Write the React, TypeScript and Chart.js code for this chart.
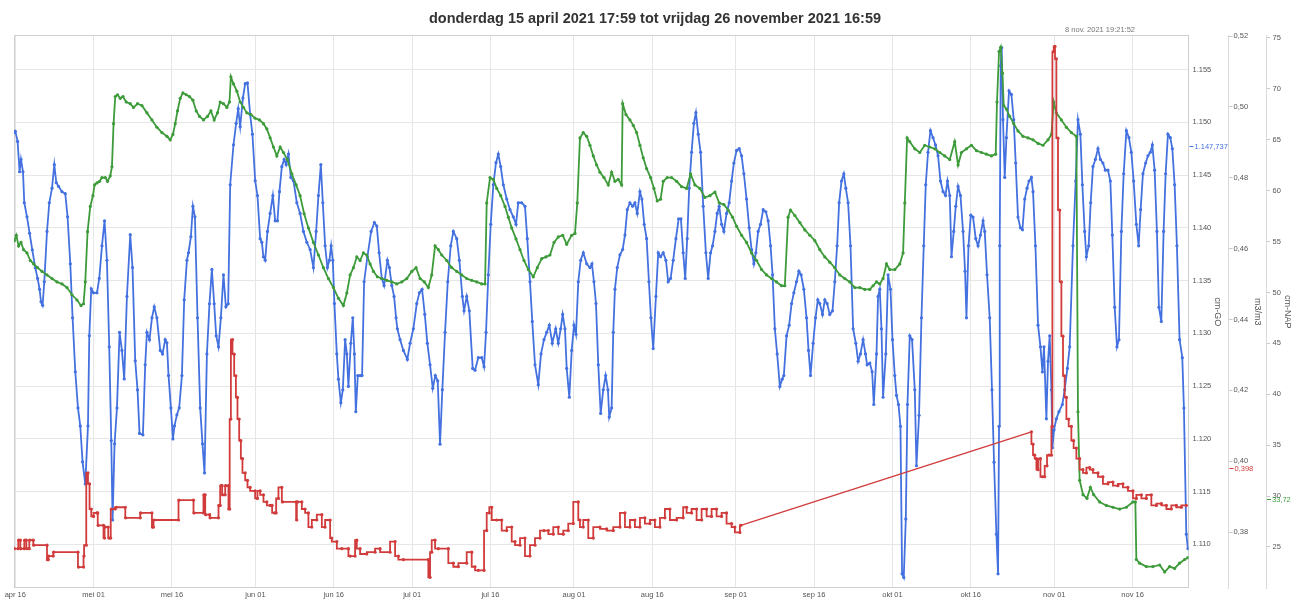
import React, { useEffect, useRef } from 'react';
import { Chart, registerables } from 'chart.js';

Chart.register(...registerables);

const FONT = '"Liberation Sans", Arial, Helvetica, sans-serif';

const TITLE = 'donderdag 15 april 2021 17:59 tot vrijdag 26 november 2021 16:59';
// x values are days counted from 16 apr 2021 00:00
const X_MIN = -0.2507; // 15 apr 2021 17:59
const X_MAX = 224.708; // 26 nov 2021 16:59
const xTickDays = [0, 15, 30, 46, 61, 76, 91, 107, 122, 138, 153, 168, 183, 199, 214];
const xTickLabels = ['apr 16', 'mei 01', 'mei 16', 'jun 01', 'jun 16', 'jul 01', 'jul 16', 'aug 01', 'aug 16', 'sep 01', 'sep 16', 'okt 01', 'okt 16', 'nov 01', 'nov 16'];

const CROSSHAIR_DAY = 206.807; // 8 nov 2021 19:21:52
const CROSSHAIR_LABEL = '8 nov. 2021 19:21:52';
const blueMarker = { value: 1147.737, text: '1.147,737' };
const redMarker = { value: 0.398, text: '0,398' };
const greenMarker = { value: 29.75, text: '33,72' };

const blueSeries: [number, number][] = [
[-0.19,1149.05],[0.00,1149.16],[0.44,1148.20],[0.82,1145.32],[1.09,1146.49],[1.47,1145.32],[1.72,1142.38],[2.24,1141.05],[2.74,1139.49],[3.25,1137.92],[3.83,1136.21],[4.27,1135.21],[4.65,1134.18],[4.92,1132.99],[5.23,1132.65],[5.55,1134.89],[6.07,1139.66],[6.51,1142.38],[7.03,1143.76],[7.47,1145.99],[7.85,1144.28],[8.29,1143.93],[8.94,1143.43],[9.57,1143.24],[10.01,1141.05],[10.53,1136.59],[10.97,1131.47],[11.49,1126.35],[12.00,1122.93],[12.44,1121.22],[12.88,1117.81],[13.40,1115.72],[13.92,1121.22],[14.17,1129.76],[14.55,1134.22],[14.99,1133.84],[15.64,1133.84],[16.08,1135.21],[16.60,1138.30],[17.09,1140.67],[17.55,1136.93],[17.99,1128.72],[18.38,1119.83],[18.63,1112.30],[19.01,1119.52],[19.47,1122.93],[19.97,1130.09],[20.42,1128.38],[20.86,1125.68],[21.38,1133.50],[22.01,1139.35],[22.45,1136.23],[22.97,1127.39],[23.41,1124.64],[23.79,1120.51],[24.44,1120.37],[24.88,1127.01],[25.21,1130.09],[25.71,1129.40],[26.17,1131.47],[26.61,1132.51],[27.12,1131.47],[27.76,1128.38],[28.20,1128.05],[28.71,1129.40],[29.04,1129.10],[29.35,1125.99],[29.80,1122.93],[30.19,1119.99],[30.49,1121.22],[30.95,1122.27],[31.39,1122.93],[31.91,1125.99],[32.35,1133.18],[32.87,1136.93],[33.17,1137.64],[33.63,1139.16],[34.02,1142.05],[34.40,1141.05],[34.90,1131.47],[35.41,1122.93],[35.85,1119.52],[36.24,1116.76],[36.70,1128.05],[37.19,1132.80],[37.65,1136.06],[38.09,1132.80],[38.48,1129.76],[38.92,1128.72],[39.37,1131.47],[39.87,1135.55],[40.33,1132.51],[40.77,1132.80],[41.16,1144.09],[41.79,1147.88],[42.30,1149.91],[42.69,1151.30],[43.07,1149.59],[43.59,1152.31],[44.03,1153.67],[44.47,1153.74],[44.98,1150.76],[45.42,1148.88],[45.94,1144.47],[46.38,1143.07],[46.90,1138.97],[47.22,1138.63],[47.53,1137.26],[47.86,1136.93],[48.30,1139.66],[48.81,1141.37],[49.33,1143.07],[49.77,1140.67],[50.21,1140.67],[50.59,1143.43],[51.05,1145.80],[51.49,1146.49],[51.88,1145.99],[52.32,1147.00],[52.77,1144.78],[53.27,1144.47],[53.92,1142.38],[54.55,1141.37],[55.19,1139.66],[55.84,1138.63],[56.47,1137.95],[57.10,1136.23],[57.62,1139.66],[58.06,1143.07],[58.52,1145.99],[58.90,1142.38],[59.34,1138.30],[59.78,1136.23],[60.16,1136.93],[60.49,1138.30],[60.81,1136.93],[61.12,1132.82],[61.58,1128.05],[61.89,1125.65],[62.35,1123.42],[62.73,1124.64],[63.17,1129.40],[63.50,1128.05],[63.80,1124.96],[64.26,1129.06],[64.64,1131.47],[64.95,1128.05],[65.22,1122.57],[65.60,1125.99],[66.04,1125.99],[66.42,1125.99],[66.81,1134.89],[67.44,1137.26],[68.15,1139.66],[68.78,1140.51],[69.24,1140.17],[69.68,1137.64],[70.19,1135.21],[70.63,1134.53],[71.27,1136.93],[71.65,1136.23],[72.11,1134.53],[72.55,1133.50],[72.93,1131.47],[73.18,1130.43],[73.70,1129.40],[74.33,1128.38],[75.09,1127.52],[75.61,1129.06],[76.24,1130.43],[76.89,1132.82],[77.39,1133.84],[77.91,1134.18],[78.43,1131.79],[78.92,1129.06],[79.44,1127.01],[79.96,1124.79],[80.45,1125.99],[80.91,1125.49],[81.35,1119.49],[81.79,1124.64],[82.31,1130.09],[82.83,1134.89],[83.40,1138.30],[83.90,1139.66],[84.55,1138.97],[85.05,1136.93],[85.62,1133.50],[85.95,1132.13],[86.46,1133.50],[86.96,1132.13],[87.61,1126.67],[88.05,1126.50],[88.68,1127.69],[89.34,1127.69],[89.78,1126.84],[90.16,1130.09],[90.60,1135.55],[91.06,1140.34],[91.56,1144.09],[92.07,1146.18],[92.51,1147.00],[92.97,1145.81],[93.47,1144.09],[94.12,1142.73],[94.75,1141.72],[95.38,1141.05],[95.90,1140.34],[96.34,1142.38],[96.99,1142.38],[97.62,1142.05],[98.06,1138.97],[98.58,1134.89],[99.02,1131.11],[99.54,1127.01],[100.17,1125.13],[100.69,1128.05],[101.26,1129.40],[101.78,1130.09],[102.28,1130.77],[102.85,1129.06],[103.50,1130.43],[104.00,1129.06],[104.46,1130.43],[104.84,1131.79],[105.28,1130.43],[105.61,1126.67],[106.11,1123.94],[106.57,1128.38],[107.01,1130.77],[107.39,1129.91],[107.83,1134.89],[108.29,1136.93],[108.79,1137.64],[109.44,1136.59],[110.07,1136.23],[110.45,1136.59],[110.83,1134.89],[111.22,1132.82],[111.66,1127.01],[112.12,1122.40],[112.61,1124.64],[113.07,1125.99],[113.51,1124.64],[113.76,1122.06],[114.22,1122.93],[114.53,1130.09],[114.85,1134.18],[115.29,1136.23],[115.81,1137.44],[116.33,1137.95],[116.77,1139.32],[117.21,1141.72],[117.72,1142.38],[118.24,1142.05],[118.68,1142.38],[119.12,1141.37],[119.64,1143.43],[120.02,1142.73],[120.46,1140.34],[120.92,1138.97],[121.36,1134.89],[121.74,1131.47],[122.18,1128.55],[122.70,1133.50],[123.14,1137.64],[123.60,1137.26],[124.10,1137.64],[124.61,1136.93],[125.05,1134.89],[125.51,1135.21],[126.01,1136.93],[126.53,1138.97],[127.05,1140.86],[127.49,1140.86],[127.92,1137.64],[128.31,1135.21],[128.69,1138.97],[129.07,1143.76],[129.53,1147.17],[129.97,1149.91],[130.36,1150.93],[130.80,1148.88],[131.26,1147.17],[131.76,1142.05],[132.27,1137.64],[132.71,1135.21],[133.17,1137.64],[133.55,1138.30],[134.00,1139.66],[134.43,1141.37],[134.82,1142.05],[135.28,1140.34],[135.72,1139.66],[136.23,1141.37],[136.73,1142.38],[137.19,1144.44],[137.63,1146.15],[138.15,1147.34],[138.65,1147.51],[139.11,1146.83],[139.55,1145.13],[140.06,1142.73],[140.56,1140.01],[141.02,1137.95],[141.46,1136.59],[141.84,1137.64],[142.28,1139.66],[142.74,1140.34],[143.24,1141.72],[143.76,1141.53],[144.20,1140.67],[144.66,1138.30],[145.04,1135.55],[145.48,1130.43],[145.92,1128.05],[146.44,1124.96],[146.88,1125.65],[147.20,1125.99],[147.72,1129.76],[148.22,1130.77],[148.68,1132.82],[149.12,1133.84],[149.63,1134.89],[150.08,1135.89],[150.51,1135.55],[151.03,1134.18],[151.55,1131.47],[151.93,1128.38],[152.31,1125.99],[152.81,1129.06],[153.27,1131.47],[153.71,1133.18],[154.09,1132.82],[154.61,1131.79],[155.05,1133.18],[155.49,1132.82],[156.00,1131.79],[156.52,1132.13],[156.96,1134.89],[157.41,1138.30],[157.79,1142.38],[158.25,1144.44],[158.69,1145.13],[159.07,1143.76],[159.51,1142.38],[159.97,1138.30],[160.47,1130.43],[160.99,1129.06],[161.43,1127.35],[161.88,1128.05],[162.38,1129.40],[162.84,1128.05],[163.15,1127.01],[163.67,1127.18],[164.11,1126.35],[164.43,1123.25],[164.95,1128.05],[165.25,1133.50],[165.58,1134.18],[165.90,1130.43],[166.21,1123.94],[166.73,1128.05],[167.17,1135.55],[167.63,1134.18],[168.01,1129.40],[168.45,1125.99],[168.78,1124.11],[169.16,1123.25],[169.54,1121.19],[169.85,1107.19],[170.17,1106.85],[170.56,1112.40],[170.88,1123.25],[171.32,1129.76],[171.76,1129.40],[172.28,1124.64],[172.60,1117.44],[173.10,1122.23],[173.56,1131.47],[174.00,1138.30],[174.38,1144.09],[174.82,1147.17],[175.28,1149.22],[175.78,1148.55],[176.24,1147.86],[176.74,1146.84],[177.20,1144.44],[177.70,1143.43],[178.16,1143.07],[178.54,1144.44],[178.98,1143.07],[179.31,1137.26],[179.75,1139.66],[180.13,1142.05],[180.57,1143.93],[181.03,1143.07],[181.53,1139.66],[181.91,1135.89],[182.18,1131.47],[182.57,1138.30],[183.01,1141.20],[183.44,1141.02],[183.96,1138.97],[184.40,1138.30],[184.86,1139.32],[185.36,1140.67],[185.68,1139.66],[186.12,1135.55],[186.63,1131.47],[187.07,1124.64],[187.46,1117.78],[187.92,1110.95],[188.23,1107.19],[188.42,1121.19],[188.55,1138.30],[188.74,1155.38],[188.93,1157.09],[189.18,1150.26],[189.51,1144.78],[189.83,1148.55],[190.33,1152.99],[190.79,1152.65],[191.23,1150.26],[191.61,1146.15],[192.05,1141.02],[192.51,1140.01],[192.90,1139.82],[193.34,1142.73],[193.78,1143.76],[194.16,1144.44],[194.62,1144.78],[194.93,1143.43],[195.39,1138.30],[195.89,1130.77],[196.35,1128.72],[196.73,1126.33],[197.03,1128.72],[197.49,1121.89],[197.80,1127.35],[198.12,1129.76],[198.45,1124.64],[198.64,1119.15],[198.95,1120.84],[199.40,1121.89],[199.90,1122.57],[200.55,1123.25],[200.99,1124.64],[201.51,1126.67],[201.95,1128.72],[202.58,1138.30],[203.10,1144.44],[203.54,1150.26],[204.00,1148.88],[204.38,1144.09],[204.82,1139.66],[205.15,1137.26],[205.59,1138.30],[205.97,1142.38],[206.41,1145.81],[206.87,1146.49],[207.37,1147.51],[207.83,1146.49],[208.32,1146.15],[208.78,1145.47],[209.28,1145.47],[209.74,1144.44],[210.12,1139.32],[210.57,1132.48],[211.01,1128.72],[211.39,1129.40],[211.85,1139.66],[212.29,1145.13],[212.81,1149.22],[213.30,1148.55],[213.76,1147.17],[214.20,1144.44],[214.72,1140.34],[215.16,1138.30],[215.54,1141.72],[215.98,1145.13],[216.50,1146.15],[216.94,1146.83],[217.40,1147.17],[217.78,1147.86],[218.22,1145.47],[218.66,1139.66],[219.04,1132.48],[219.50,1131.11],[219.94,1139.66],[220.33,1145.13],[220.77,1148.88],[221.22,1148.55],[221.61,1147.51],[222.05,1144.09],[222.49,1138.30],[223.00,1129.40],[223.52,1127.69],[223.83,1122.91],[224.29,1110.95],[224.60,1109.58]
];

const greenSeries: [number, number][] = [
[-0.19,55.09],[0.19,55.62],[0.63,54.57],[1.09,54.91],[1.59,54.20],[2.24,53.88],[2.87,53.14],[3.50,52.80],[4.27,52.43],[5.11,52.07],[6.07,51.72],[7.03,51.37],[7.98,51.03],[8.94,50.84],[9.90,50.48],[10.85,49.77],[11.81,49.26],[12.58,48.71],[13.07,48.89],[13.40,51.03],[13.84,55.97],[14.36,58.45],[14.87,59.51],[15.18,60.57],[15.64,60.76],[16.14,60.92],[16.60,61.28],[17.23,61.28],[17.67,60.92],[18.18,61.45],[18.51,62.34],[18.82,66.58],[19.14,69.24],[19.58,69.42],[20.10,69.07],[20.62,69.24],[21.25,68.71],[22.01,68.54],[22.64,68.18],[23.41,68.54],[24.25,68.36],[25.21,67.64],[26.17,66.95],[27.12,66.23],[28.08,65.70],[29.04,65.34],[29.67,64.99],[30.19,65.52],[30.63,66.58],[31.07,67.83],[31.58,69.07],[32.10,69.60],[32.73,69.42],[33.36,69.24],[34.02,68.89],[34.65,67.83],[35.28,67.29],[36.04,66.95],[36.81,67.29],[37.46,67.83],[38.09,66.95],[38.72,67.64],[39.24,68.71],[39.87,68.54],[40.52,68.18],[41.02,68.71],[41.29,71.19],[41.79,70.48],[42.44,69.77],[43.07,68.71],[43.70,68.18],[44.35,67.64],[45.12,67.47],[45.94,67.11],[46.76,66.95],[47.53,66.58],[48.18,66.06],[48.81,65.18],[49.44,64.29],[50.09,63.41],[50.73,64.29],[51.36,63.75],[52.12,63.05],[52.97,61.64],[53.79,60.57],[54.55,59.51],[55.32,57.74],[56.14,56.34],[57.10,54.91],[58.06,53.68],[59.01,52.43],[59.97,51.37],[60.93,50.48],[61.89,49.42],[62.84,48.71],[63.50,49.95],[64.13,51.72],[64.76,52.43],[65.41,53.49],[66.04,53.14],[66.67,53.88],[67.32,53.68],[67.95,52.80],[68.59,52.07],[69.35,51.54],[70.19,51.37],[71.15,51.19],[72.11,51.03],[73.06,50.84],[74.02,51.03],[74.98,51.37],[75.94,52.07],[76.76,52.43],[77.53,51.37],[78.35,51.03],[79.11,50.48],[79.76,51.72],[80.40,54.57],[81.03,54.20],[81.68,53.68],[82.64,53.14],[83.59,52.43],[84.55,52.07],[85.51,51.72],[86.46,51.37],[87.42,51.19],[88.38,51.03],[89.34,50.84],[89.97,50.84],[90.29,58.79],[90.92,61.28],[91.56,61.10],[92.21,60.22],[92.97,59.51],[93.80,58.45],[94.43,57.39],[95.08,56.34],[95.90,55.26],[96.67,54.20],[97.43,53.14],[98.26,52.25],[99.21,51.54],[99.98,52.43],[100.82,53.32],[101.64,53.49],[102.41,53.68],[103.18,54.91],[104.00,55.45],[104.84,55.62],[105.61,54.74],[106.57,55.62],[107.20,55.80],[107.64,58.79],[108.15,65.18],[108.78,65.70],[109.44,65.34],[110.07,64.46],[110.70,63.41],[111.35,62.52],[111.98,61.81],[112.75,61.28],[113.57,60.56],[114.22,61.81],[114.85,60.92],[115.48,61.10],[116.13,60.56],[116.33,68.54],[116.96,67.47],[117.72,66.95],[118.36,66.41],[119.01,65.70],[119.64,64.46],[120.27,63.22],[120.92,62.16],[121.69,61.28],[122.32,60.22],[122.95,58.99],[123.60,59.16],[124.10,60.92],[124.86,61.28],[125.71,61.28],[126.66,60.92],[127.62,60.39],[128.58,60.22],[129.34,61.64],[130.17,60.56],[131.12,60.22],[132.08,59.33],[133.04,59.51],[134.00,59.87],[134.82,58.79],[135.72,58.63],[136.54,58.10],[137.38,57.39],[138.15,56.50],[139.11,55.62],[140.06,54.91],[141.02,53.88],[141.98,53.14],[142.93,52.25],[143.89,51.72],[144.85,51.37],[145.80,51.03],[146.76,50.66],[147.39,50.66],[148.02,57.39],[148.48,58.10],[149.31,57.56],[150.27,56.86],[151.22,56.14],[152.18,55.62],[153.14,55.09],[154.09,54.20],[155.05,53.49],[156.00,52.97],[156.96,52.43],[157.92,51.72],[158.87,51.37],[159.83,51.03],[160.79,50.48],[161.75,50.48],[162.70,50.30],[163.67,50.30],[164.29,50.66],[164.95,51.03],[165.58,50.84],[166.21,51.37],[166.86,52.80],[167.50,52.25],[168.45,52.25],[169.41,52.80],[170.04,53.88],[170.37,58.79],[170.81,65.18],[171.32,64.81],[172.28,64.11],[173.24,63.75],[174.19,64.46],[175.15,64.29],[176.11,64.11],[177.06,63.75],[178.02,63.41],[178.98,63.05],[179.93,64.81],[180.57,62.52],[181.22,63.75],[182.18,64.11],[183.13,64.46],[184.09,63.93],[185.05,63.75],[186.00,63.58],[186.96,63.41],[187.78,63.58],[188.03,68.71],[188.42,73.66],[188.74,74.09],[189.07,71.54],[189.32,68.36],[189.83,68.01],[190.46,67.29],[191.23,66.58],[192.05,65.87],[193.01,65.34],[193.97,65.18],[194.93,64.99],[195.89,64.64],[196.84,64.46],[197.80,64.99],[198.45,65.52],[198.89,68.71],[199.40,67.64],[200.36,66.95],[201.32,66.23],[202.27,65.70],[203.23,65.34],[203.54,38.28],[203.86,31.55],[204.50,30.14],[205.26,29.78],[205.91,30.85],[206.54,30.14],[207.69,29.42],[208.97,29.08],[210.24,28.90],[211.52,28.72],[212.80,28.90],[214.07,29.42],[214.53,29.42],[214.72,23.77],[215.35,23.41],[216.63,23.07],[217.90,23.07],[219.18,23.23],[220.14,22.54],[221.09,23.07],[222.05,22.89],[223.00,23.41],[223.96,23.77],[224.60,23.95]
];

const redSeries: [number, number][] = [
[-0.19,0.3753],[0.57,0.3753],[0.67,0.3777],[0.96,0.3777],[1.05,0.3753],[1.72,0.3753],[1.82,0.3777],[2.11,0.3777],[2.20,0.3753],[2.68,0.3753],[2.78,0.3777],[3.45,0.3777],[3.54,0.3763],[6.07,0.3763],[6.16,0.3722],[6.32,0.3722],[6.41,0.3732],[7.27,0.3732],[7.37,0.3743],[12.00,0.3743],[12.10,0.3701],[13.07,0.3701],[13.17,0.3732],[13.59,0.3763],[13.92,0.3967],[14.22,0.3936],[14.55,0.3865],[14.99,0.3844],[15.64,0.3854],[15.79,0.3854],[15.89,0.3819],[16.90,0.3819],[17.09,0.3783],[17.23,0.3814],[17.80,0.3814],[17.99,0.3783],[18.28,0.3783],[18.41,0.3865],[19.14,0.3865],[19.33,0.3870],[21.06,0.3870],[21.15,0.3840],[23.93,0.3840],[24.02,0.3854],[26.17,0.3854],[26.26,0.3814],[26.47,0.3814],[26.57,0.3834],[31.26,0.3834],[31.35,0.3890],[34.13,0.3890],[34.23,0.3854],[36.04,0.3854],[36.14,0.3905],[36.37,0.3905],[36.47,0.3849],[37.23,0.3849],[37.33,0.3840],[38.92,0.3840],[39.01,0.3875],[39.24,0.3875],[39.43,0.3931],[39.62,0.3931],[39.72,0.3905],[40.20,0.3905],[40.29,0.3931],[40.83,0.3931],[40.93,0.3865],[41.06,0.3865],[41.29,0.4119],[41.60,0.4343],[41.92,0.4302],[42.25,0.4241],[42.55,0.4180],[42.88,0.4119],[43.20,0.4058],[43.51,0.4007],[44.03,0.3967],[44.47,0.3946],[44.98,0.3926],[45.94,0.3916],[46.38,0.3895],[46.90,0.3916],[47.53,0.3905],[48.18,0.3885],[48.81,0.3875],[49.19,0.3875],[49.64,0.3854],[49.96,0.3854],[50.40,0.3895],[51.05,0.3926],[51.21,0.3885],[53.79,0.3885],[53.92,0.3834],[54.08,0.3885],[54.88,0.3885],[55.51,0.3865],[56.14,0.3854],[56.79,0.3814],[57.75,0.3834],[58.71,0.3849],[59.34,0.3814],[60.30,0.3834],[60.62,0.3783],[61.58,0.3773],[62.54,0.3753],[63.80,0.3753],[64.13,0.3732],[65.08,0.3732],[65.41,0.3777],[66.04,0.3753],[67.32,0.3738],[68.91,0.3743],[69.87,0.3753],[71.78,0.3743],[72.74,0.3773],[73.37,0.3732],[74.33,0.3722],[79.11,0.3722],[79.44,0.3672],[79.76,0.3743],[80.40,0.3777],[81.03,0.3753],[82.94,0.3753],[83.90,0.3712],[84.86,0.3702],[86.46,0.3712],[87.42,0.3743],[88.05,0.3702],[88.68,0.3692],[89.78,0.3692],[90.29,0.3804],[90.79,0.3854],[91.25,0.3870],[92.21,0.3834],[93.16,0.3834],[94.12,0.3804],[95.08,0.3814],[95.71,0.3773],[96.67,0.3763],[97.62,0.3783],[98.58,0.3732],[99.54,0.3763],[100.50,0.3783],[101.26,0.3804],[102.09,0.3804],[103.04,0.3794],[104.00,0.3814],[104.96,0.3794],[105.91,0.3804],[106.87,0.3824],[107.83,0.3885],[108.15,0.3834],[108.78,0.3814],[109.74,0.3834],[110.70,0.3783],[111.98,0.3814],[113.26,0.3809],[114.53,0.3804],[115.81,0.3814],[116.77,0.3854],[117.72,0.3814],[118.68,0.3834],[119.64,0.3814],[120.59,0.3840],[121.55,0.3824],[122.51,0.3834],[123.47,0.3814],[124.42,0.3840],[125.38,0.3865],[126.66,0.3834],[127.92,0.3840],[128.58,0.3870],[129.53,0.3854],[130.49,0.3865],[131.45,0.3834],[132.41,0.3865],[133.36,0.3844],[134.32,0.3865],[135.28,0.3844],[136.23,0.3854],[137.19,0.3824],[137.82,0.3814],[138.78,0.3799],[138.97,0.3819],
[194.62,0.4083],[194.93,0.4048],[195.25,0.4017],[195.58,0.4007],[195.89,0.3976],[196.35,0.4007],[196.73,0.3956],[197.17,0.3956],[197.61,0.3987],[197.99,0.4017],[198.45,0.4017],[198.64,0.4098],[198.89,0.5156],[199.14,0.5171],[199.40,0.5136],[199.71,0.4912],[200.04,0.4709],[200.36,0.4506],[200.67,0.4353],[200.99,0.4241],[201.32,0.4180],[201.76,0.4119],[202.27,0.4098],[202.71,0.4058],[203.23,0.4037],[203.86,0.4007],[204.50,0.3976],[205.15,0.3967],[205.78,0.3982],[206.41,0.3976],[207.37,0.3967],[208.32,0.3956],[209.28,0.3936],[210.24,0.3941],[211.20,0.3931],[212.15,0.3936],[213.11,0.3926],[214.07,0.3916],[214.72,0.3895],[215.68,0.3905],[216.63,0.3895],[217.59,0.3905],[218.55,0.3875],[219.51,0.3880],[220.47,0.3875],[221.42,0.3865],[222.38,0.3875],[223.34,0.3870],[224.29,0.3875]
];

const BLUE = '#4471e0';
const GREEN = '#3d9b3a';
const RED = '#d13b3b';
const GRID = '#e6e6e6';
const AXIS_LINE = '#d9d9d9';
const TICK_COLOR = '#555555';

const fmtBlue = (v: number) => String(Math.round(v)).replace(/\B(?=(\d{3})+(?!\d))/g, '.');
const fmtRed = (v: number) => v.toFixed(2).replace('.', ',');
const fmtGreen = (v: number) => String(Math.round(v));

const overlayPlugin = {
  id: 'overlay',
  beforeDatasetsDraw(chart: any) {
    const { ctx, chartArea: a } = chart;
    ctx.save();
    ctx.strokeStyle = '#cfcfcf';
    ctx.lineWidth = 1;
    ctx.strokeRect(Math.round(a.left) + 0.5, Math.round(a.top) + 0.5, Math.round(a.right - a.left) - 1, Math.round(a.bottom - a.top) - 1);
    ctx.restore();
  },
  afterDraw(chart: any) {
    const { ctx, chartArea: a, scales } = chart;
    ctx.save();
    ctx.font = `7.5px ${FONT}`;
    ctx.fillStyle = '#777777';
    ctx.textAlign = 'center';
    ctx.textBaseline = 'middle';
    ctx.fillText(CROSSHAIR_LABEL, scales.x.getPixelForValue(CROSSHAIR_DAY) + 5, a.top - 5);
    const marks: [string, { value: number; text: string }, string][] = [
      ['yBlue', blueMarker, BLUE],
      ['yRed', redMarker, RED],
      ['yGreen', greenMarker, GREEN],
    ];
    ctx.textAlign = 'left';
    ctx.lineWidth = 1;
    for (const [id, m, color] of marks) {
      const sc = scales[id];
      const y = Math.round(sc.getPixelForValue(m.value)) + 0.5;
      const x = sc.left + 1;
      ctx.strokeStyle = color;
      ctx.fillStyle = color;
      ctx.beginPath();
      ctx.moveTo(x, y);
      ctx.lineTo(x + 4, y);
      ctx.stroke();
      ctx.fillText(m.text, x + 5, y);
    }
    ctx.restore();
  },
};

export default function App() {
  const ref = useRef<HTMLCanvasElement>(null);
  useEffect(() => {
    const canvas = ref.current;
    if (!canvas) return;
    const toXY = (s: [number, number][]) => s.map(([x, y]) => ({ x, y }));
    const gapIdx = redSeries.findIndex((p, i) => i > 0 && p[0] - redSeries[i - 1][0] > 10);
    const redA = toXY(redSeries.slice(0, gapIdx));
    const redB = toXY(redSeries.slice(gapIdx));
    const redLink = [redA[redA.length - 1], redB[0]];
    const lineStyle = (color: string) => ({
      borderColor: color,
      backgroundColor: color,
      pointBackgroundColor: color,
      pointBorderWidth: 0,
      pointRadius: 1.6,
      borderWidth: 1.8,
      fill: false,
      tension: 0,
    });
    const tickFont = { size: 7.5, family: FONT };
    const titleFont = { size: 9, family: FONT };
    const chart = new Chart(canvas, {
      type: 'line',
      data: {
        datasets: [
          { label: 'red', data: redA, yAxisID: 'yRed', stepped: 'after', order: 0, ...lineStyle(RED) },
          { label: 'red2', data: redB, yAxisID: 'yRed', stepped: 'after', order: 0, ...lineStyle(RED) },
          { label: 'redLink', data: redLink, yAxisID: 'yRed', order: 0, ...lineStyle(RED), borderWidth: 1.3, pointRadius: 0 },
          { label: 'green', data: toXY(greenSeries), yAxisID: 'yGreen', order: 1, ...lineStyle(GREEN) },
          { label: 'blue', data: toXY(blueSeries), yAxisID: 'yBlue', order: 2, ...lineStyle(BLUE) },
        ] as any,
      },
      options: {
        responsive: false,
        animation: false,
        devicePixelRatio: 1,
        layout: { padding: { left: 14, right: 8, top: 0, bottom: 0 } },
        plugins: {
          legend: { display: false },
          tooltip: { enabled: false },
          title: {
            display: true,
            text: TITLE,
            color: '#333333',
            font: { size: 14.5, weight: 'bold', family: FONT },
            padding: { top: 10, bottom: 8 },
          },
        },
        scales: {
          x: {
            type: 'linear',
            min: X_MIN,
            max: X_MAX,
            afterBuildTicks: (axis: any) => {
              axis.ticks = xTickDays.map((v) => ({ value: v }));
            },
            afterFit: (s: any) => {
              s.paddingLeft = 0;
              s.paddingRight = 0;
              s.height = 12;
            },
            ticks: {
              autoSkip: false,
              maxRotation: 0,
              padding: 2,
              color: TICK_COLOR,
              font: tickFont,
              callback: (_v: any, i: number) => xTickLabels[i],
            },
            grid: { color: GRID, drawTicks: false },
            border: { display: false },
          },
          yBlue: {
            type: 'linear',
            position: 'right',
            weight: 0,
            min: 1105.85,
            max: 1158.25,
            afterFit: (s: any) => {
              s.width = 40;
              s.paddingTop = 0;
              s.paddingBottom = 0;
            },
            ticks: { stepSize: 5, includeBounds: false, padding: 4, color: TICK_COLOR, font: tickFont, callback: (v: any) => fmtBlue(Number(v)) },
            grid: { color: GRID, drawTicks: false },
            border: { display: false },
            title: { display: true, text: 'cm-GO', color: TICK_COLOR, font: titleFont, padding: { top: 5.6, bottom: 0 } },
          },
          yRed: {
            type: 'linear',
            position: 'right',
            weight: 1,
            min: 0.3642,
            max: 0.5202,
            afterFit: (s: any) => {
              s.width = 37.5;
              s.paddingTop = 0;
              s.paddingBottom = 0;
            },
            ticks: { stepSize: 0.02, includeBounds: false, padding: 1, color: TICK_COLOR, font: tickFont, callback: (v: any) => fmtRed(Number(v)) },
            grid: { drawOnChartArea: false, drawTicks: true, tickLength: 4, color: '#c8c8c8' },
            border: { display: true, color: AXIS_LINE },
            title: { display: true, text: 'm3/m3', color: TICK_COLOR, font: titleFont, padding: { top: 3.6, bottom: 0 } },
          },
          yGreen: {
            type: 'linear',
            position: 'right',
            weight: 2,
            min: 20.97,
            max: 75.25,
            afterFit: (s: any) => {
              s.width = 30;
              s.paddingTop = 0;
              s.paddingBottom = 0;
            },
            ticks: { stepSize: 5, includeBounds: false, padding: 2.5, color: TICK_COLOR, font: tickFont, callback: (v: any) => fmtGreen(Number(v)) },
            grid: { drawOnChartArea: false, drawTicks: true, tickLength: 4, color: '#c8c8c8' },
            border: { display: true, color: AXIS_LINE },
            title: { display: true, text: 'cm-NAP', color: TICK_COLOR, font: titleFont, padding: { top: 3.1, bottom: 0 } },
          },
        },
      } as any,
      plugins: [overlayPlugin],
    });
    return () => chart.destroy();
  }, []);
  return (
    <div style={{ position: 'absolute', left: 0, top: 0, width: 1304, height: 600, background: '#ffffff' }}>
      <canvas ref={ref} width={1304} height={600} style={{ display: 'block', width: 1304, height: 600 }} />
    </div>
  );
}
